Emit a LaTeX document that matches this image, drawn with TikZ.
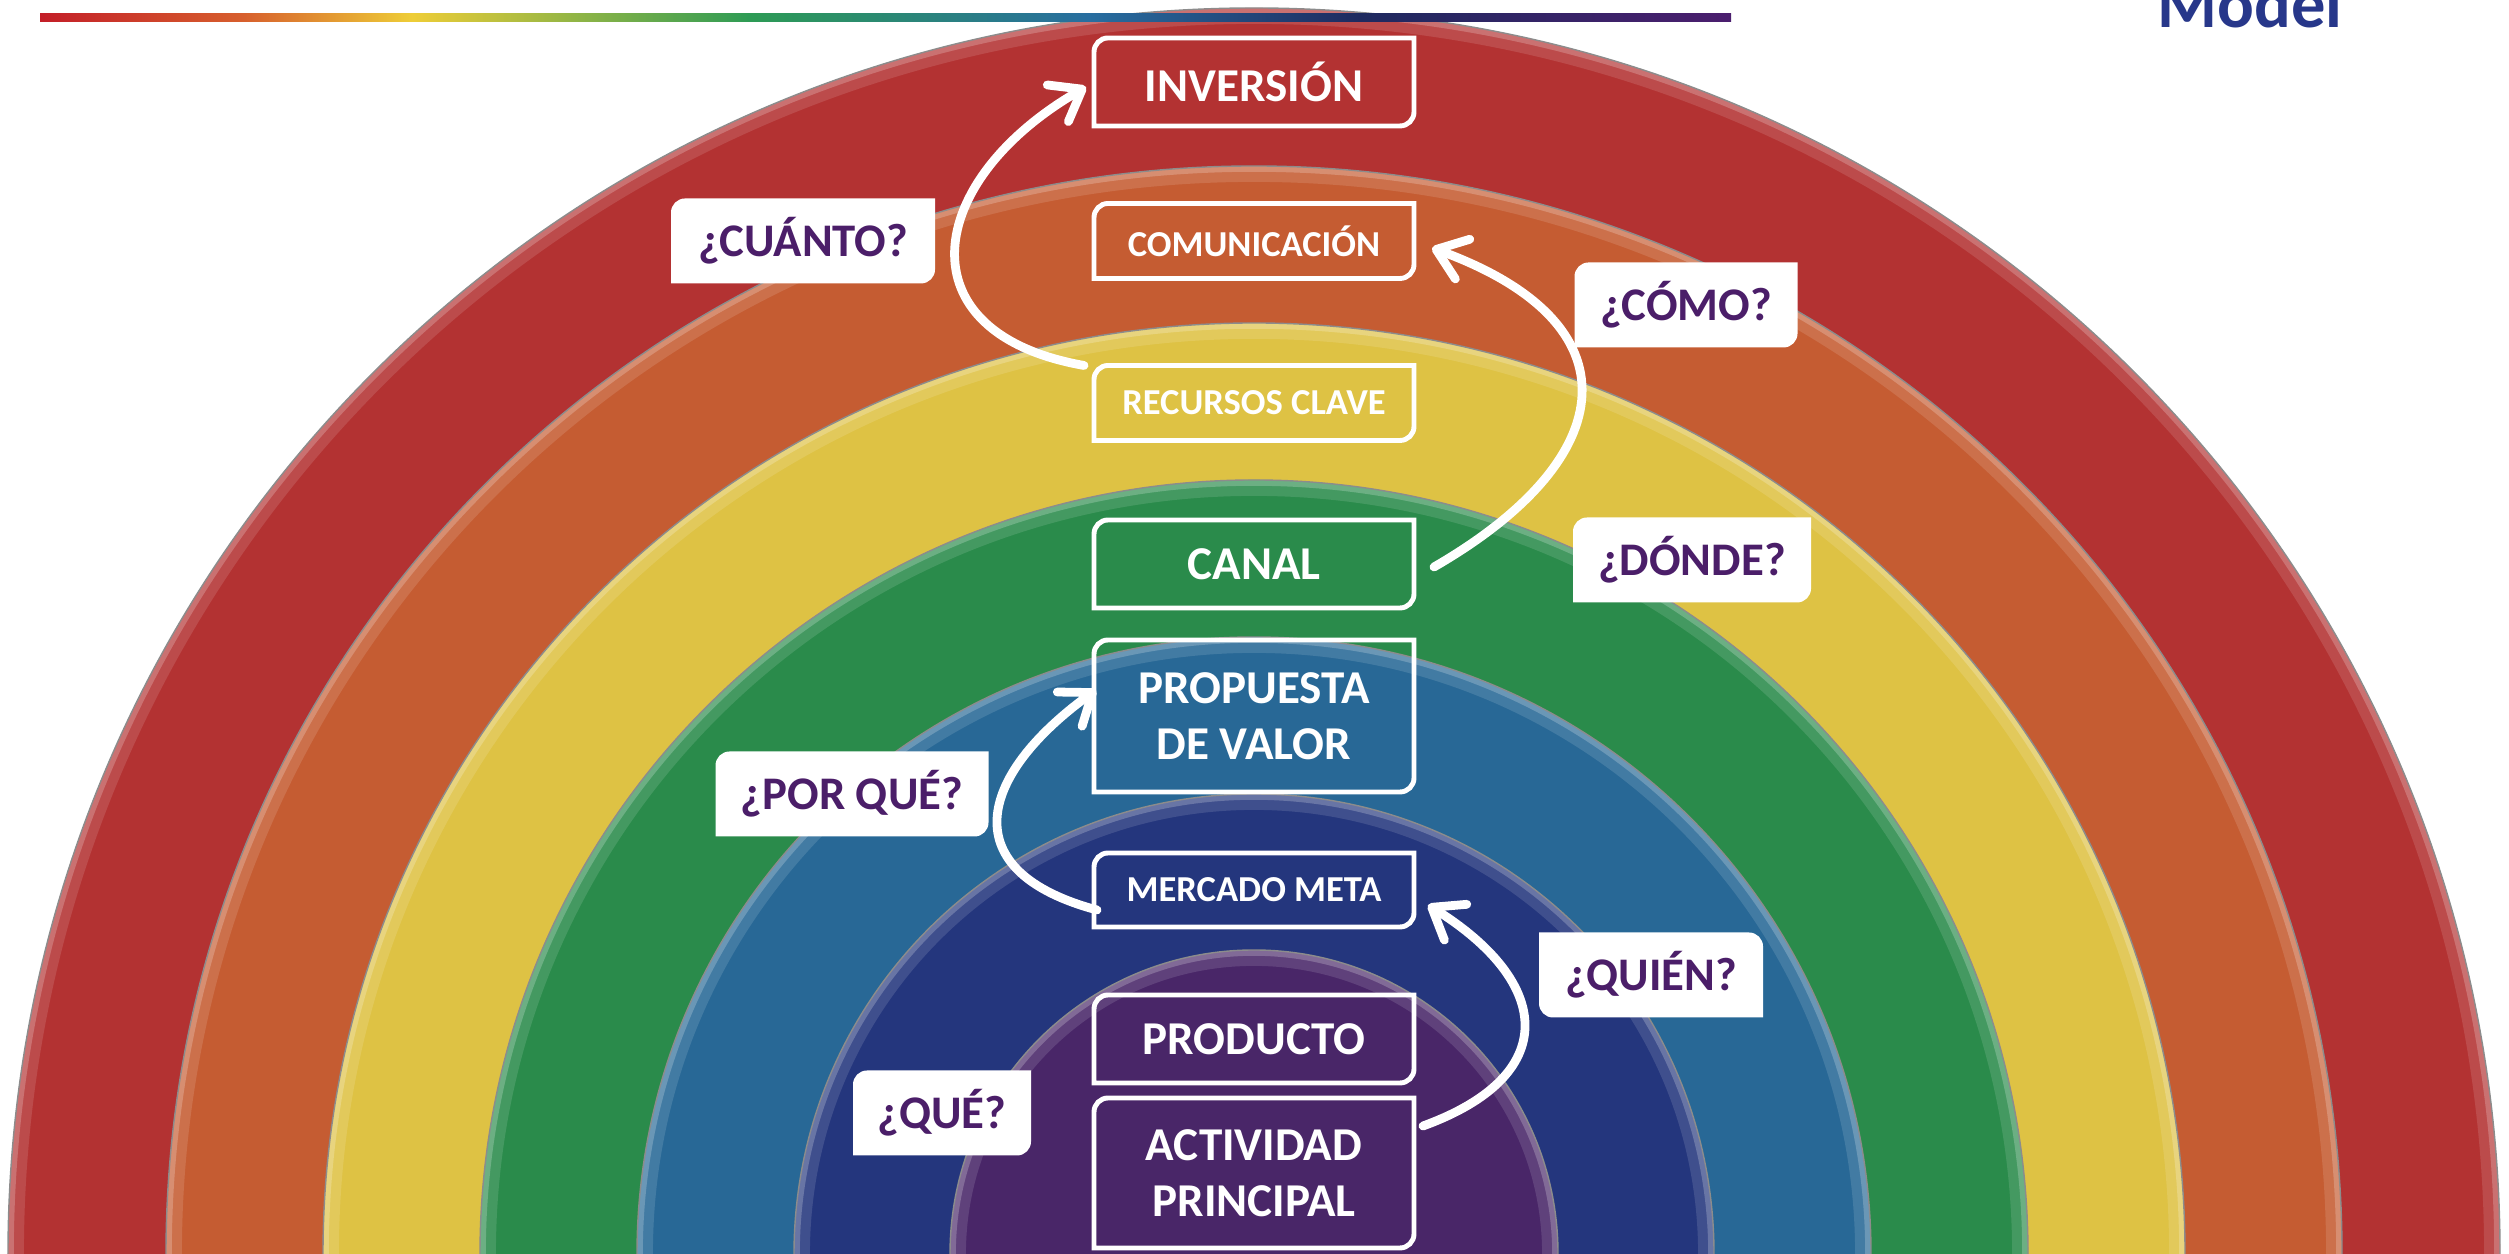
\documentclass[tikz,border=0pt]{standalone}
\usepackage{fontspec}
\setmainfont{Carlito}
\usetikzlibrary{arrows.meta}

\definecolor{bandred}{RGB}{179,50,50}
\definecolor{bandorange}{RGB}{197,92,50}
\definecolor{bandyellow}{RGB}{222,194,68}
\definecolor{bandgreen}{RGB}{42,139,75}
\definecolor{bandblue}{RGB}{40,104,150}
\definecolor{bandnavy}{RGB}{36,54,125}
\definecolor{bandpurple}{RGB}{73,38,104}
\definecolor{askpurple}{RGB}{75,30,105}
\definecolor{titleblue}{RGB}{39,55,138}
\definecolor{linered}{RGB}{195,30,40}
\definecolor{lineorange}{RGB}{215,95,45}
\definecolor{lineyellow}{RGB}{238,205,55}
\definecolor{linegreen}{RGB}{45,155,85}
\definecolor{lineblue}{RGB}{40,110,160}
\definecolor{linenavy}{RGB}{30,42,95}
\definecolor{linepurple}{RGB}{75,30,110}

\pgfdeclarehorizontalshading{rainbowline}{100bp}{%
  color(0bp)=(linered); color(25bp)=(linered); color(31bp)=(lineorange);
  color(36bp)=(lineyellow); color(46bp)=(linegreen); color(56bp)=(lineblue);
  color(64bp)=(linenavy); color(75bp)=(linepurple); color(100bp)=(linepurple)}

\pgfdeclarelayer{bands}
\pgfdeclarelayer{frames}
\pgfsetlayers{bands,frames,main}

% corner radius of the boxes
\newcommand{\crad}{1.4mm}
% box with rounded top left and bottom right corners
\newcommand{\framenwse}[2]{%
  \path[#2] (#1.north east) -- ([xshift=\crad]#1.north west)
    arc[start angle=90, end angle=180, radius=\crad] -- (#1.south west)
    -- ([xshift=-\crad]#1.south east)
    arc[start angle=270, end angle=360, radius=\crad] -- cycle;}
% box with rounded top right and bottom left corners
\newcommand{\framenesw}[2]{%
  \path[#2] (#1.north west) -- ([xshift=-\crad]#1.north east)
    arc[start angle=90, end angle=0, radius=\crad] -- (#1.south east)
    -- ([xshift=\crad]#1.south west)
    arc[start angle=270, end angle=180, radius=\crad] -- cycle;}

\tikzset{
  block/.style={inner sep=0pt, outer sep=0pt, minimum width=3.2cm, minimum height=0.88cm,
    align=center, text=white, font=\fontsize{13.4}{16}\selectfont\bfseries},
  smallblock/.style={block, minimum height=0.75cm, font=\fontsize{10.4}{12}\selectfont\bfseries},
  askbox/.style={inner sep=0pt, outer sep=0pt, minimum height=0.85cm,
    text=askpurple, font=\fontsize{13.3}{16}\selectfont\bfseries},
  whitearrow/.style={draw=white, line width=2.5pt, line cap=round,
    -{Straight Barb[length=8pt, width=12pt, line cap=round, line join=round]}}
}

\begin{document}
\begin{tikzpicture}
  \useasboundingbox (0,0) rectangle (25.09,12.54);
  \clip (0,0) rectangle (25.09,12.54);

  % rainbow
  \begin{pgfonlayer}{bands}
    \clip (0,0) rectangle (25.09,12.54);
    \foreach \r/\c in {12.46/bandred, 10.88/bandorange, 9.31/bandyellow, 7.74/bandgreen,
                       6.17/bandblue, 4.60/bandnavy, 3.04/bandpurple}{
      \fill[\c] (12.54,0) circle[radius=\r];
      \draw[\c!50!white, line width=4.5pt, opacity=0.25] (12.54,0) circle[radius=\r-0.08];
      \draw[\c!50!white, line width=1.6pt, opacity=0.5] (12.54,0) circle[radius=\r-0.03];
      \draw[black!45, line width=0.4pt] (12.54,0) circle[radius=\r];
    }
  \end{pgfonlayer}

  \shade[shading=rainbowline] (0.40,12.32) rectangle (17.31,12.40);
  \node[anchor=base west, inner sep=0pt, text=titleblue, font=\fontsize{19.5}{24}\selectfont\bfseries]
    (title) at (21.57,12.26) {Model};

  % blocks
  \node[block] (inversion) at (12.54,11.72) {INVERSIÓN};
  \node[smallblock] (comunicacion) at (12.54,10.13) {COMUNICACIÓN};
  \node[smallblock] (recursos) at (12.54,8.51) {RECURSOS CLAVE};
  \node[block] (canal) at (12.54,6.90) {CANAL};
  \node[block, minimum height=1.52cm] (propuesta) at (12.54,5.38) {PROPUESTA\\DE VALOR};
  \node[smallblock, minimum height=0.74cm] (mercado) at (12.54,3.64) {MERCADO META};
  \node[block] (producto) at (12.54,2.15) {PRODUCTO};
  \node[block, minimum height=1.50cm] (actividad) at (12.54,0.81) {ACTIVIDAD\\PRINCIPAL};

  % questions
  \node[askbox, minimum width=2.64cm] (cuanto) at (8.03,10.13) {¿CUÁNTO?};
  \node[askbox, minimum width=2.23cm] (como) at (16.86,9.49) {¿CÓMO?};
  \node[askbox, minimum width=2.38cm] (donde) at (16.92,6.94) {¿DÓNDE?};
  \node[askbox, minimum width=2.73cm] (porque) at (8.52,4.60) {¿POR QUÉ?};
  \node[askbox, minimum width=2.24cm] (quien) at (16.51,2.79) {¿QUIÉN?};
  \node[askbox, minimum width=1.78cm] (que) at (9.42,1.41) {¿QUÉ?};

  \begin{pgfonlayer}{frames}
    \foreach \n in {inversion,comunicacion,recursos,canal,propuesta,mercado,producto,actividad}
      \framenwse{\n}{draw=white, line width=1.4pt};
    \foreach \n in {cuanto,como,donde,porque,que}
      \framenwse{\n}{fill=white};
    \framenesw{quien}{fill=white};
  \end{pgfonlayer}

  % arrows
  \draw[whitearrow] ([xshift=-1mm]recursos.north west) to[out=170, in=210, looseness=1.71]
    ([xshift=-0.8mm, yshift=-0.5mm]inversion.west);
  \draw[whitearrow] ([xshift=2mm, yshift=-0.3mm]canal.east) to[out=30, in=340, looseness=1.75]
    ([xshift=1.8mm, yshift=-0.7mm]comunicacion.east);
  \draw[whitearrow] ([xshift=0.3mm, yshift=-2mm]mercado.west) to[out=165, in=216, looseness=1.72]
    ([xshift=0.2mm, yshift=2.6mm]propuesta.west);
  \draw[whitearrow] ([xshift=0.9mm, yshift=4.7mm]actividad.east) to[out=20, in=328, looseness=1.70]
    ([xshift=1.4mm, yshift=-1.5mm]mercado.east);
\end{tikzpicture}
\end{document}
